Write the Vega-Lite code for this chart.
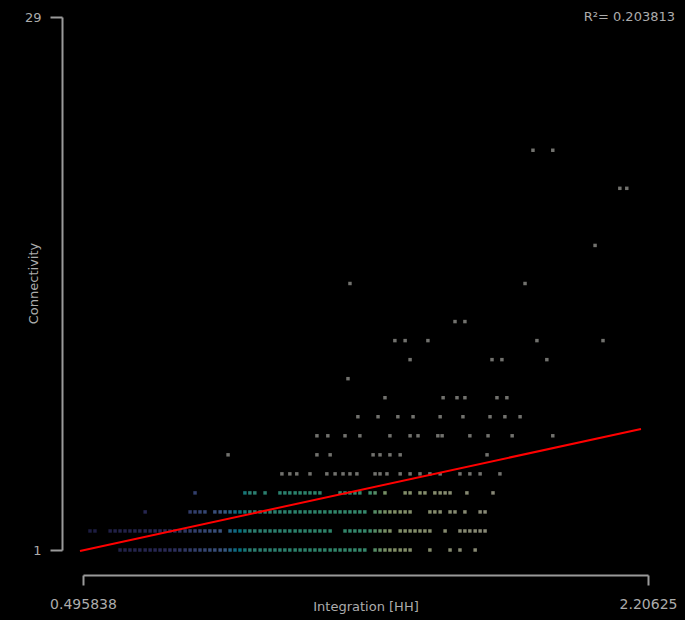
{
  "$schema": "https://vega.github.io/schema/vega-lite/v6.json",
  "width": 565,
  "height": 533,
  "autosize": {"type": "none"},
  "padding": {"left": 83, "top": 17, "right": 37, "bottom": 70},
  "background": "#000000",
  "config": {
    "view": {"stroke": null},
    "font": "DejaVu Sans",
    "axis": {
      "grid": false,
      "domainColor": "#9a9a9a",
      "domainWidth": 2,
      "tickColor": "#9a9a9a",
      "tickWidth": 2,
      "labelColor": "#acacac",
      "labelFontSize": 13,
      "titleColor": "#acacac",
      "titleFontSize": 13,
      "titleFontWeight": "normal",
      "labelFlush": false,
      "labelOverlap": false
    }
  },
  "datasets": {
    "pts": [
      {"x":0.608,"y":1},{"x":0.623,"y":1},{"x":0.638,"y":1},{"x":0.653,"y":1},{"x":0.668,"y":1},{"x":0.684,"y":1},{"x":0.699,"y":1},{"x":0.714,"y":1},{"x":0.729,"y":1},{"x":0.744,"y":1},{"x":0.759,"y":1},{"x":0.774,"y":1},{"x":0.789,"y":1},{"x":0.805,"y":1},{"x":0.820,"y":1},{"x":0.835,"y":1},{"x":0.850,"y":1},{"x":0.865,"y":1},{"x":0.880,"y":1},{"x":0.895,"y":1},{"x":0.911,"y":1},{"x":0.926,"y":1},{"x":0.941,"y":1},{"x":0.956,"y":1},{"x":0.971,"y":1},{"x":0.986,"y":1},{"x":1.001,"y":1},{"x":1.016,"y":1},{"x":1.032,"y":1},{"x":1.047,"y":1},{"x":1.062,"y":1},{"x":1.077,"y":1},{"x":1.092,"y":1},{"x":1.107,"y":1},{"x":1.122,"y":1},{"x":1.138,"y":1},{"x":1.153,"y":1},{"x":1.168,"y":1},{"x":1.183,"y":1},{"x":1.198,"y":1},{"x":1.213,"y":1},{"x":1.228,"y":1},{"x":1.244,"y":1},{"x":1.259,"y":1},{"x":1.274,"y":1},{"x":1.289,"y":1},{"x":1.304,"y":1},{"x":1.319,"y":1},{"x":1.334,"y":1},{"x":1.349,"y":1},{"x":1.380,"y":1},{"x":1.395,"y":1},{"x":1.410,"y":1},{"x":1.425,"y":1},{"x":1.440,"y":1},{"x":1.456,"y":1},{"x":1.471,"y":1},{"x":1.486,"y":1},{"x":1.546,"y":1},{"x":1.607,"y":1},{"x":1.637,"y":1},{"x":1.683,"y":1},
      {"x":0.517,"y":2},{"x":0.532,"y":2},{"x":0.578,"y":2},{"x":0.593,"y":2},{"x":0.608,"y":2},{"x":0.623,"y":2},{"x":0.638,"y":2},{"x":0.653,"y":2},{"x":0.668,"y":2},{"x":0.684,"y":2},{"x":0.699,"y":2},{"x":0.714,"y":2},{"x":0.729,"y":2},{"x":0.744,"y":2},{"x":0.759,"y":2},{"x":0.774,"y":2},{"x":0.789,"y":2},{"x":0.805,"y":2},{"x":0.820,"y":2},{"x":0.835,"y":2},{"x":0.850,"y":2},{"x":0.865,"y":2},{"x":0.880,"y":2},{"x":0.895,"y":2},{"x":0.911,"y":2},{"x":0.941,"y":2},{"x":0.956,"y":2},{"x":0.971,"y":2},{"x":0.986,"y":2},{"x":1.001,"y":2},{"x":1.016,"y":2},{"x":1.032,"y":2},{"x":1.047,"y":2},{"x":1.062,"y":2},{"x":1.077,"y":2},{"x":1.092,"y":2},{"x":1.107,"y":2},{"x":1.122,"y":2},{"x":1.138,"y":2},{"x":1.153,"y":2},{"x":1.168,"y":2},{"x":1.183,"y":2},{"x":1.198,"y":2},{"x":1.213,"y":2},{"x":1.228,"y":2},{"x":1.244,"y":2},{"x":1.289,"y":2},{"x":1.304,"y":2},{"x":1.319,"y":2},{"x":1.334,"y":2},{"x":1.349,"y":2},{"x":1.365,"y":2},{"x":1.380,"y":2},{"x":1.395,"y":2},{"x":1.410,"y":2},{"x":1.425,"y":2},{"x":1.456,"y":2},{"x":1.471,"y":2},{"x":1.486,"y":2},{"x":1.501,"y":2},{"x":1.516,"y":2},{"x":1.531,"y":2},{"x":1.546,"y":2},{"x":1.592,"y":2},{"x":1.637,"y":2},{"x":1.652,"y":2},{"x":1.667,"y":2},{"x":1.683,"y":2},{"x":1.698,"y":2},{"x":1.713,"y":2},
      {"x":0.684,"y":3},{"x":0.820,"y":3},{"x":0.835,"y":3},{"x":0.850,"y":3},{"x":0.865,"y":3},{"x":0.895,"y":3},{"x":0.911,"y":3},{"x":0.926,"y":3},{"x":0.941,"y":3},{"x":0.956,"y":3},{"x":0.971,"y":3},{"x":0.986,"y":3},{"x":1.001,"y":3},{"x":1.016,"y":3},{"x":1.032,"y":3},{"x":1.047,"y":3},{"x":1.062,"y":3},{"x":1.077,"y":3},{"x":1.092,"y":3},{"x":1.107,"y":3},{"x":1.122,"y":3},{"x":1.138,"y":3},{"x":1.153,"y":3},{"x":1.168,"y":3},{"x":1.183,"y":3},{"x":1.198,"y":3},{"x":1.213,"y":3},{"x":1.228,"y":3},{"x":1.244,"y":3},{"x":1.259,"y":3},{"x":1.274,"y":3},{"x":1.289,"y":3},{"x":1.304,"y":3},{"x":1.319,"y":3},{"x":1.334,"y":3},{"x":1.349,"y":3},{"x":1.380,"y":3},{"x":1.395,"y":3},{"x":1.410,"y":3},{"x":1.425,"y":3},{"x":1.440,"y":3},{"x":1.456,"y":3},{"x":1.471,"y":3},{"x":1.486,"y":3},{"x":1.546,"y":3},{"x":1.561,"y":3},{"x":1.577,"y":3},{"x":1.607,"y":3},{"x":1.622,"y":3},{"x":1.652,"y":3},{"x":1.698,"y":3},{"x":1.713,"y":3},
      {"x":0.835,"y":4},{"x":0.986,"y":4},{"x":1.001,"y":4},{"x":1.016,"y":4},{"x":1.047,"y":4},{"x":1.092,"y":4},{"x":1.107,"y":4},{"x":1.122,"y":4},{"x":1.138,"y":4},{"x":1.153,"y":4},{"x":1.168,"y":4},{"x":1.183,"y":4},{"x":1.198,"y":4},{"x":1.213,"y":4},{"x":1.274,"y":4},{"x":1.289,"y":4},{"x":1.304,"y":4},{"x":1.319,"y":4},{"x":1.334,"y":4},{"x":1.365,"y":4},{"x":1.380,"y":4},{"x":1.410,"y":4},{"x":1.471,"y":4},{"x":1.486,"y":4},{"x":1.516,"y":4},{"x":1.531,"y":4},{"x":1.561,"y":4},{"x":1.577,"y":4},{"x":1.592,"y":4},{"x":1.607,"y":4},{"x":1.658,"y":4},{"x":1.737,"y":4},
      {"x":1.098,"y":5},{"x":1.122,"y":5},{"x":1.143,"y":5},{"x":1.183,"y":5},{"x":1.234,"y":5},{"x":1.259,"y":5},{"x":1.283,"y":5},{"x":1.304,"y":5},{"x":1.325,"y":5},{"x":1.380,"y":5},{"x":1.395,"y":5},{"x":1.416,"y":5},{"x":1.456,"y":5},{"x":1.486,"y":5},{"x":1.516,"y":5},{"x":1.546,"y":5},{"x":1.577,"y":5},{"x":1.637,"y":5},{"x":1.667,"y":5},{"x":1.698,"y":5},{"x":1.758,"y":5},
      {"x":0.935,"y":6},{"x":1.204,"y":6},{"x":1.244,"y":6},{"x":1.374,"y":6},{"x":1.395,"y":6},{"x":1.425,"y":6},{"x":1.456,"y":6},{"x":1.719,"y":6},
      {"x":1.204,"y":7},{"x":1.237,"y":7},{"x":1.289,"y":7},{"x":1.334,"y":7},{"x":1.425,"y":7},{"x":1.486,"y":7},{"x":1.510,"y":7},{"x":1.570,"y":7},{"x":1.583,"y":7},{"x":1.667,"y":7},{"x":1.722,"y":7},{"x":1.795,"y":7},{"x":1.918,"y":7},
      {"x":1.328,"y":8},{"x":1.389,"y":8},{"x":1.449,"y":8},{"x":1.495,"y":8},{"x":1.577,"y":8},{"x":1.646,"y":8},{"x":1.728,"y":8},{"x":1.773,"y":8},{"x":1.819,"y":8},
      {"x":1.410,"y":9},{"x":1.586,"y":9},{"x":1.628,"y":9},{"x":1.652,"y":9},{"x":1.749,"y":9},{"x":1.779,"y":9},
      {"x":1.298,"y":10},
      {"x":1.486,"y":11},{"x":1.734,"y":11},{"x":1.764,"y":11},{"x":1.900,"y":11},
      {"x":1.440,"y":12},{"x":1.471,"y":12},{"x":1.540,"y":12},{"x":1.870,"y":12},{"x":2.070,"y":12},
      {"x":1.622,"y":13},{"x":1.652,"y":13},
      {"x":1.304,"y":15},{"x":1.834,"y":15},
      {"x":2.046,"y":17},
      {"x":2.121,"y":20},{"x":2.142,"y":20},
      {"x":1.858,"y":22},{"x":1.918,"y":22}
    ],
    "fit": [{"x":0.4867,"y":0.95},{"x":2.185,"y":7.36}],
    "note": [{"t":"R²= 0.203813"}]
  },
  "layer": [
    {
      "data": {"name": "pts"},
      "mark": {"type": "square", "size": 12, "opacity": 0.8, "filled": true},
      "encoding": {
        "x": {
          "field": "x", "type": "quantitative",
          "scale": {"domain": [0.495838, 2.20625], "nice": false, "zero": false},
          "axis": {
            "values": [0.495838, 2.20625],
            "labelExpr": "'' + datum.value",
            "title": "Integration [HH]",
            "offset": 25,
            "tickSize": 10,
            "labelPadding": 12,
            "labelFontSize": 14,
            "titleY": 31,
            "titleBaseline": "middle"
          }
        },
        "y": {
          "field": "y", "type": "quantitative",
          "scale": {"domain": [1, 29], "nice": false, "zero": false},
          "axis": {
            "values": [1, 29],
            "labelExpr": "'' + datum.value",
            "title": "Connectivity",
            "offset": 21,
            "tickSize": 12,
            "labelPadding": 9,
            "titleX": -29,
            "titleY": 266,
            "titleBaseline": "middle"
          }
        },
        "color": {
          "field": "x", "type": "quantitative",
          "condition": {"test": "datum.y >= 5", "value": "#8e8e8a"},
          "scale": {
            "domain": [0.5, 0.75, 0.92, 1.0, 1.2, 1.36, 1.42, 1.75, 2.2],
            "range": ["#22224e", "#34346c", "#4a6aa0", "#369c8c", "#38a484", "#44ac88", "#a0b480", "#aaaa96", "#b0b0b0"]
          },
          "legend": null
        }
      }
    },
    {
      "data": {"name": "fit"},
      "mark": {"type": "line", "color": "#ff0000", "strokeWidth": 2, "clip": false},
      "encoding": {
        "x": {"field": "x", "type": "quantitative"},
        "y": {"field": "y", "type": "quantitative"}
      }
    },
    {
      "data": {"name": "note"},
      "mark": {"type": "text", "align": "right", "baseline": "middle", "dx": 27, "fontSize": 13, "color": "#acacac"},
      "encoding": {
        "x": {"datum": 2.20625, "type": "quantitative"},
        "y": {"datum": 29, "type": "quantitative"},
        "text": {"field": "t"}
      }
    }
  ]
}
